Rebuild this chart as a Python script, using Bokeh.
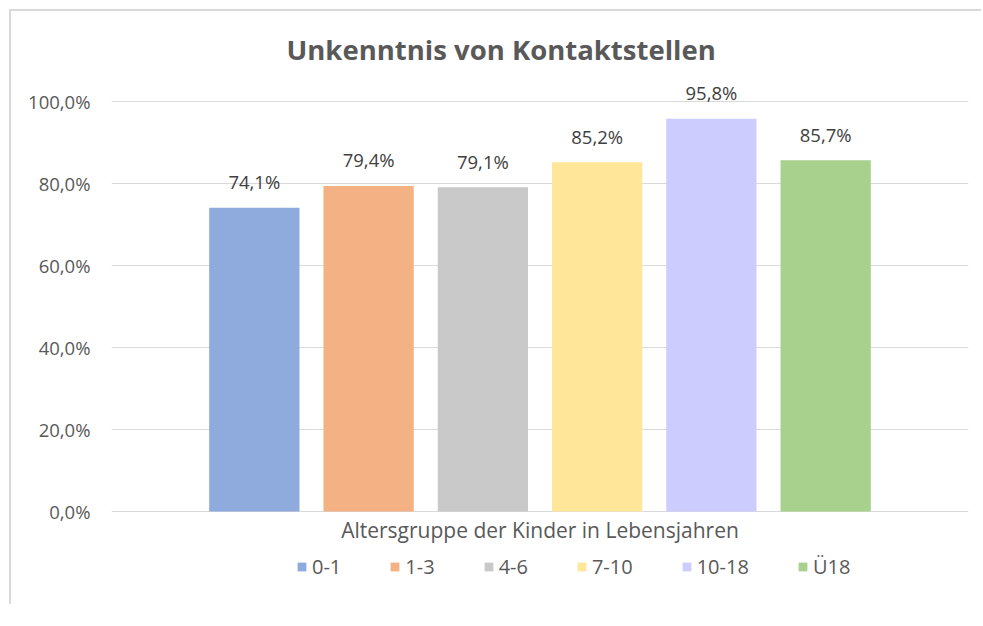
from bokeh.plotting import figure
from bokeh.models import (Range1d, FixedTicker, CustomJSTickFormatter, Legend, LegendItem,
                          Label, ColumnDataSource)
from bokeh.core.properties import value
from bokeh.embed import file_html
from bokeh.resources import INLINE

# ---- data ----
title_text = "Unkenntnis von Kontaktstellen"
x_title = "Altersgruppe der Kinder in Lebensjahren"
categories = ["0-1", "1-3", "4-6", "7-10", "10-18", "Ü18"]
values = [74.1, 79.4, 79.1, 85.2, 95.8, 85.7]
colors = ["#8FAADC", "#F4B183", "#C9C9C9", "#FFE699", "#CCCCFF", "#A9D18E"]
y_ticks = [0, 20, 40, 60, 80, 100]

FONT = "Open Sans"
W, H = 972, 595

src = ColumnDataSource(dict(
    x=list(range(len(categories))),
    top=values,
    color=colors,
    cat=categories,
    label=[f"{v:.1f}".replace(".", ",") + "%" for v in values],
))

p = figure(width=W, height=H, output_backend="svg", toolbar_location=None,
           x_axis_location=None,
           x_range=Range1d(-1.25, 6.25), y_range=Range1d(-23.17, 107.56),
           min_border_left=100, min_border_right=15, min_border_top=59, min_border_bottom=0)
p.styles = {"margin-left": "9px", "margin-top": "9px", "padding-bottom": "14px",
            "border-left": "2px solid #D9D9D9", "border-top": "2px solid #D9D9D9"}
p.outline_line_color = None
p.background_fill_color = "white"
p.border_fill_color = "white"

# title
p.title.text = title_text
p.title.text_font = FONT
p.title.text_font_style = "bold"
p.title.text_font_size = "27.5px"
p.title.text_color = "#595959"
p.title.align = "left"
p.title.offset = 175
p.title.standoff = 6

# y axis
ticker = FixedTicker(ticks=y_ticks)
p.yaxis.ticker = ticker
p.yaxis.formatter = CustomJSTickFormatter(code="return tick.toFixed(1).replace('.', ',') + '%';")
p.yaxis.axis_line_color = None
p.yaxis.major_tick_line_color = None
p.yaxis.minor_tick_line_color = None
p.yaxis.major_tick_out = 0
p.yaxis.major_tick_in = 0
p.yaxis.major_label_standoff = 21
p.yaxis.major_label_text_font = FONT
p.yaxis.major_label_text_font_size = "18.5px"
p.yaxis.major_label_text_color = "#595959"

p.ygrid.ticker = ticker
p.ygrid.grid_line_color = "#D9D9D9"
p.ygrid.grid_line_width = 1
p.xgrid.visible = False

# bars
r = p.vbar(x="x", top="top", width=0.79, bottom=0, fill_color="color", line_color=None, source=src)

# data labels
p.text(x="x", y="top", text="label", source=src, text_align="center", text_baseline="alphabetic",
       y_offset=-26, text_font=value(FONT), text_font_size="18.5px", text_color="#404040")

# x axis title
p.add_layout(Label(x=2.5, y=-4.4, text=x_title, text_align="center", text_baseline="middle",
                   text_font=FONT, text_font_size="21px", text_color="#595959"))

# legend
legend = Legend(items=[LegendItem(label=c, renderers=[r], index=i) for i, c in enumerate(categories)],
                orientation="horizontal", location=(185, 26),
                glyph_width=11, glyph_height=11, label_standoff=5, spacing=48,
                padding=0, margin=0, border_line_color=None, background_fill_alpha=0,
                label_text_font=FONT, label_text_font_size="20px", label_text_color="#595959")
p.add_layout(legend)

open("out.html", "w").write(file_html(p, INLINE))
